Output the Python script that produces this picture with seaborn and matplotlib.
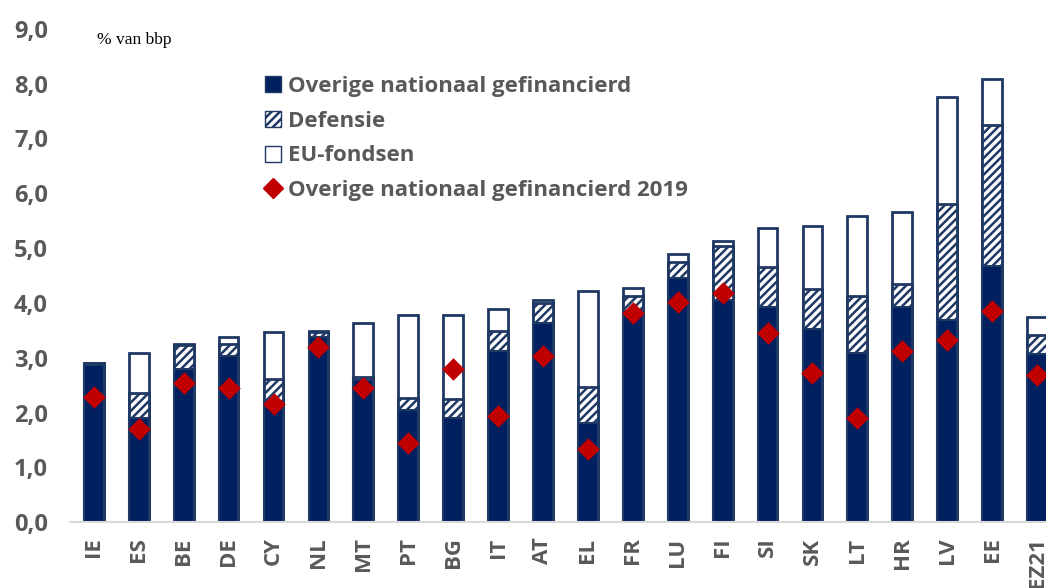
import numpy as np
import pandas as pd
import matplotlib
matplotlib.use('Agg')
import matplotlib.pyplot as plt
import seaborn as sns
from matplotlib.patches import Patch
from matplotlib.lines import Line2D

countries = ['IE', 'ES', 'BE', 'DE', 'CY', 'NL', 'MT', 'PT', 'BG', 'IT', 'AT',
             'EL', 'FR', 'LU', 'FI', 'SI', 'SK', 'LT', 'HR', 'LV', 'EE', 'EZ21']
nat = [2.87, 1.90, 2.79, 3.03, 2.20, 3.38, 2.60, 2.04, 1.90, 3.12, 3.63,
       1.81, 3.85, 4.45, 4.05, 3.92, 3.52, 3.08, 3.92, 3.69, 4.67, 3.07]
defensie = [0.03, 0.45, 0.44, 0.22, 0.42, 0.08, 0.05, 0.22, 0.34, 0.37, 0.37,
            0.65, 0.28, 0.30, 0.99, 0.73, 0.73, 1.04, 0.42, 2.11, 2.57, 0.34]
eu = [0.00, 0.73, 0.02, 0.13, 0.85, 0.02, 0.98, 1.52, 1.54, 0.40, 0.05,
      1.76, 0.14, 0.15, 0.09, 0.71, 1.15, 1.46, 1.32, 1.95, 0.84, 0.33]
nat_2019 = [2.28, 1.70, 2.53, 2.44, 2.15, 3.20, 2.44, 1.45, 2.79, 1.94, 3.03,
            1.33, 3.81, 4.01, 4.18, 3.45, 2.72, 1.90, 3.12, 3.32, 3.85, 2.68]

df = pd.DataFrame({'land': countries, 'nat': nat, 'def': defensie, 'eu': eu, 'y2019': nat_2019})
df['nat_def'] = df['nat'] + df['def']
df['totaal'] = df['nat_def'] + df['eu']

navy = '#002060'
edge = '#1F3864'
red = '#C00000'
grey = '#595959'

sns.set_style('white')
plt.rcParams['font.family'] = ['Open Sans', 'DejaVu Sans']
plt.rcParams['hatch.linewidth'] = 1.8

fig = plt.figure(figsize=(10.46, 5.88), dpi=100)
ax = fig.add_axes([0.067, 0.112, 0.933, 0.839])

# stacked bars: draw totals first, then cover with lower parts
sns.barplot(data=df, x='land', y='totaal', order=countries, color='white',
            edgecolor=edge, linewidth=2, width=0.44, errorbar=None, ax=ax)
n = len(ax.patches)
sns.barplot(data=df, x='land', y='nat_def', order=countries, color='white',
            edgecolor=edge, linewidth=2, width=0.44, errorbar=None, ax=ax)
for p in ax.patches[n:]:
    p.set_hatch('////')
    p.set_facecolor('white')
sns.barplot(data=df, x='land', y='nat', order=countries, color=navy,
            edgecolor=edge, linewidth=1.5, width=0.44, errorbar=None, ax=ax,
            saturation=1)
sns.stripplot(data=df, x='land', y='y2019', order=countries, jitter=False,
              marker='D', size=11.5, color=red, linewidth=0, ax=ax, zorder=5)

ax.set_xlim(-0.53, 21.2)
ax.set_ylim(0, 9)
ax.set_yticks(np.arange(0, 10, 1))
ax.set_yticklabels([f'{v:.1f}'.replace('.', ',') for v in np.arange(0, 10, 1)])
ax.set_xlabel('')
ax.set_ylabel('')
ax.tick_params(axis='y', length=0, pad=16, labelsize=17, labelcolor=grey)
ax.tick_params(axis='x', length=0, pad=11, labelsize=16, labelcolor=grey, rotation=90)
for lab in ax.get_xticklabels() + ax.get_yticklabels():
    lab.set_fontweight('bold')

for s in ['top', 'right', 'left']:
    ax.spines[s].set_visible(False)
ax.spines['bottom'].set_color('#D9D9D9')
ax.spines['bottom'].set_linewidth(1.5)

fig.text(0.093, 0.925, '% van bbp', fontsize=12.5, family='Liberation Serif', color='black')

handles = [
    Patch(facecolor=navy, edgecolor=edge, label='Overige nationaal gefinancierd'),
    Patch(facecolor='white', edgecolor=edge, hatch='////', label='Defensie'),
    Patch(facecolor='white', edgecolor=edge, label='EU-fondsen'),
    Line2D([], [], marker='D', color=red, linestyle='none', markersize=10,
           label='Overige nationaal gefinancierd 2019'),
]
leg = ax.legend(handles=handles, loc='upper left', bbox_to_anchor=(0.2345, 0.905),
                bbox_transform=fig.transFigure, frameon=False, handlelength=0.72,
                handleheight=0.72, handletextpad=0.28, labelspacing=0.62,
                prop={'size': 16, 'weight': 'bold'})
for t in leg.get_texts():
    t.set_color(grey)

fig.savefig('out.png', dpi=100)
